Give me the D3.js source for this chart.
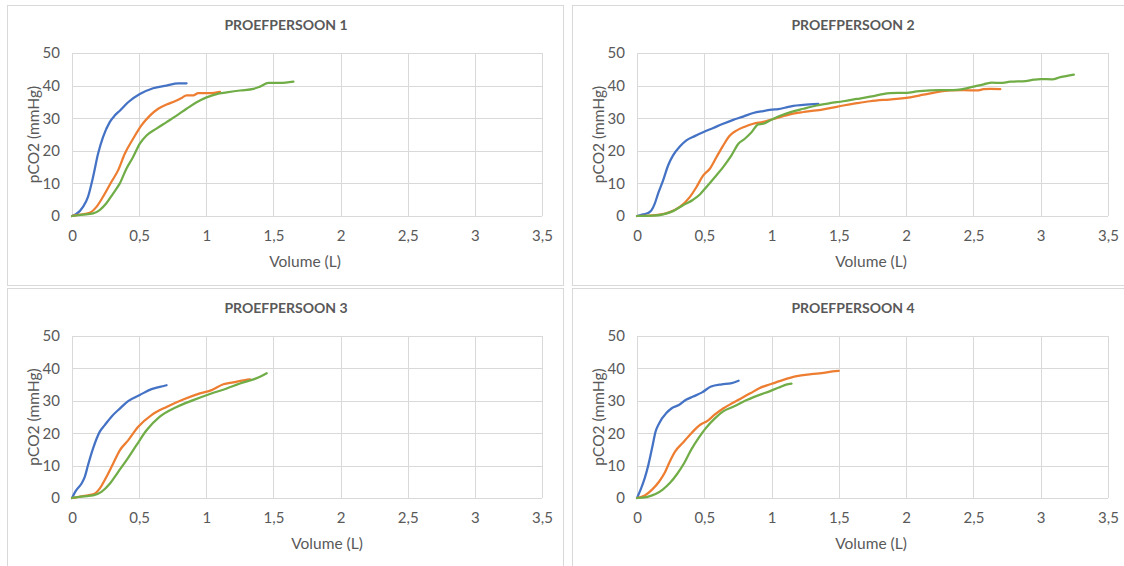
<!DOCTYPE html>
<html>
<head>
<meta charset="utf-8">
<script src="https://d3js.org/d3.v7.min.js"></script>
<style>
  body { margin: 0; background: #fff; }
  text { font-family: Lato, "Open Sans", sans-serif; fill: #595959; }
</style>
</head>
<body>
<svg class="target" width="1124" height="566"></svg>
<script>

// tick values (volume in L, pCO2 in mmHg)
const xTicks = [0, 0.5, 1, 1.5, 2, 2.5, 3, 3.5]
const yTicks = [0, 10, 20, 30, 40, 50]
const seriesColors = ['#4472C4', '#ED7D31', '#70AD47']

// proefpersoon 1  [volume, pCO2]
const p1Blue = [[0,0],[0.032,0.6],[0.082,2.8],[0.119,5.9],[0.157,12],[0.194,19.1],[0.231,24.2],[0.281,28.8],[0.318,30.8],[0.356,32.3],[0.418,34.9],[0.505,37.4],[0.604,39.2],[0.704,40],[0.791,40.7],[0.853,40.7]]
const p1Orange = [[0,0],[0.057,0.4],[0.132,1.0],[0.182,2.8],[0.231,5.9],[0.294,10.5],[0.343,14.0],[0.393,19.1],[0.455,23.7],[0.517,27.8],[0.580,30.8],[0.642,32.9],[0.704,34.2],[0.766,35.2],[0.816,36.2],[0.853,37.0],[0.903,37.0],[0.940,37.7],[1.027,37.7],[1.102,38.1]]
const p1Green = [[0,0],[0.082,0.4],[0.157,0.8],[0.206,1.8],[0.256,3.9],[0.306,6.9],[0.356,10.0],[0.405,14.5],[0.455,18.1],[0.505,22.2],[0.555,24.7],[0.629,26.8],[0.704,28.8],[0.779,30.8],[0.853,32.9],[0.928,34.9],[1.002,36.4],[1.077,37.4],[1.152,37.9],[1.251,38.5],[1.351,39.0],[1.400,39.7],[1.463,40.8],[1.550,40.8],[1.649,41.2]]

// proefpersoon 2
const p2Blue = [[0,0],[0.045,0.5],[0.082,0.9],[0.107,1.7],[0.132,3.8],[0.156,6.8],[0.194,10.9],[0.231,15.5],[0.268,18.6],[0.318,21.3],[0.367,23.2],[0.429,24.5],[0.491,25.7],[0.566,27.0],[0.640,28.3],[0.715,29.5],[0.789,30.5],[0.864,31.6],[0.938,32.2],[1.000,32.6],[1.050,32.8],[1.099,33.2],[1.161,33.8],[1.236,34.1],[1.347,34.4]]
const p2Orange = [[0,0],[0.094,0.1],[0.169,0.4],[0.243,1.2],[0.318,2.8],[0.392,5.8],[0.442,8.9],[0.491,12.4],[0.541,14.5],[0.591,18.1],[0.640,21.6],[0.690,24.7],[0.739,26.2],[0.801,27.4],[0.864,28.3],[0.938,28.9],[1.000,29.6],[1.062,30.3],[1.136,31.2],[1.236,31.9],[1.335,32.4],[1.434,33.1],[1.533,33.9],[1.633,34.6],[1.732,35.2],[1.831,35.6],[1.931,35.9],[2.030,36.4],[2.129,37.2],[2.228,38.0],[2.328,38.5],[2.427,38.6],[2.526,38.5],[2.576,38.9],[2.625,39.0],[2.700,38.9]]
const p2Green = [[0,0],[0.119,0.1],[0.194,0.5],[0.268,1.5],[0.342,3.3],[0.417,5.0],[0.467,6.6],[0.516,8.9],[0.578,11.9],[0.640,15.0],[0.702,18.6],[0.752,22.1],[0.801,23.7],[0.851,25.7],[0.901,28.1],[0.938,28.3],[0.988,29.3],[1.050,30.5],[1.136,31.8],[1.236,32.9],[1.335,33.9],[1.434,34.6],[1.533,35.2],[1.633,35.9],[1.732,36.6],[1.806,37.2],[1.881,37.7],[2.005,37.8],[2.079,38.2],[2.179,38.5],[2.278,38.6],[2.377,38.7],[2.427,39.0],[2.501,39.7],[2.576,40.4],[2.638,40.9],[2.700,40.8],[2.774,41.2],[2.886,41.4],[2.948,41.8],[2.998,42.0],[3.084,41.9],[3.146,42.6],[3.246,43.4]]

// proefpersoon 3
const p3Blue = [[0,0],[0.032,2.4],[0.070,4.4],[0.095,6.5],[0.119,10.1],[0.157,15.3],[0.206,20.4],[0.244,22.5],[0.294,25.1],[0.356,27.6],[0.418,29.9],[0.505,31.8],[0.592,33.6],[0.654,34.3],[0.704,34.8]]
const p3Orange = [[0,0],[0.082,0.6],[0.157,1.1],[0.206,2.9],[0.256,6.5],[0.306,10.6],[0.356,14.7],[0.418,17.8],[0.493,22.0],[0.592,25.6],[0.704,28.1],[0.828,30.4],[0.953,32.3],[1.040,33.3],[1.127,35.1],[1.201,35.7],[1.289,36.4],[1.326,36.6]]
const p3Green = [[0,0],[0.082,0.5],[0.157,0.8],[0.219,1.9],[0.281,4.4],[0.343,8.0],[0.405,11.6],[0.480,16.3],[0.555,20.9],[0.654,25.1],[0.779,28.1],[0.903,30.2],[1.027,32.1],[1.152,33.8],[1.276,35.7],[1.351,36.6],[1.400,37.4],[1.450,38.5]]

// proefpersoon 4
const p4Blue = [[0,0],[0.032,3.1],[0.058,6.2],[0.085,10.3],[0.112,15.4],[0.138,20.5],[0.165,23.1],[0.218,26.2],[0.258,27.7],[0.311,28.7],[0.364,30.3],[0.417,31.3],[0.484,32.6],[0.550,34.4],[0.630,35.1],[0.696,35.4],[0.755,36.2]]
const p4Orange = [[0,0],[0.058,0.8],[0.112,2.6],[0.165,5.1],[0.205,7.7],[0.244,11.3],[0.284,14.4],[0.337,16.9],[0.404,20.0],[0.470,22.6],[0.524,23.8],[0.577,25.7],[0.643,27.7],[0.710,29.3],[0.776,30.8],[0.842,32.3],[0.909,33.9],[0.989,35.1],[1.082,36.4],[1.188,37.6],[1.294,38.2],[1.400,38.7],[1.454,39.1],[1.499,39.2]]
const p4Green = [[0,0],[0.072,0.3],[0.138,1.2],[0.191,2.6],[0.244,4.6],[0.298,7.4],[0.351,10.8],[0.404,15.0],[0.457,18.5],[0.510,21.5],[0.577,24.5],[0.643,26.8],[0.723,28.3],[0.803,30.0],[0.896,31.6],[0.989,33.0],[1.055,34.1],[1.108,35.0],[1.148,35.3]]

const titles = ['PROEFPERSOON 1', 'PROEFPERSOON 2', 'PROEFPERSOON 3', 'PROEFPERSOON 4']
const panelSeries = [
  [p1Blue, p1Orange, p1Green],
  [p2Blue, p2Orange, p2Green],
  [p3Blue, p3Orange, p3Green],
  [p4Blue, p4Orange, p4Green]
]

// panel frames: box + plot area
const panels = [
  {bx: 7,   by: 5,   bw: 556, bh: 280, px0: 72,  px1: 542,  py0: 53,  py1: 216, xlab: 305},
  {bx: 572, by: 5,   bw: 560, bh: 280, px0: 637, px1: 1108, py0: 53,  py1: 216, xlab: 871},
  {bx: 7,   by: 288, bw: 556, bh: 290, px0: 72,  px1: 542,  py0: 336, py1: 498, xlab: 327},
  {bx: 572, by: 288, bw: 560, bh: 290, px0: 637, px1: 1108, py0: 336, py1: 498, xlab: 871}
]

const svg = d3.select('.target')
const fmt = d => String(d).replace('.', ',')

panels.forEach((p, i) => {
  const g = svg.append('g')

  g.append('rect')
    .attr('x', p.bx + 0.5).attr('y', p.by + 0.5)
    .attr('width', p.bw).attr('height', p.bh)
    .attr('fill', '#fff').attr('stroke', '#d9d9d9')

  const x = d3.scaleLinear([0, 3.5], [p.px0, p.px1])
  const y = d3.scaleLinear([0, 50], [p.py1, p.py0])

  // gridlines
  g.append('g')
    .selectAll('line')
    .data(xTicks)
    .join('line')
      .attr('x1', d => Math.round(x(d)) + 0.5).attr('x2', d => Math.round(x(d)) + 0.5)
      .attr('y1', p.py0).attr('y2', p.py1)
      .attr('stroke', '#d9d9d9')
  g.append('g')
    .selectAll('line')
    .data(yTicks)
    .join('line')
      .attr('x1', p.px0).attr('x2', p.px1)
      .attr('y1', d => Math.round(y(d)) + 0.5).attr('y2', d => Math.round(y(d)) + 0.5)
      .attr('stroke', '#d9d9d9')

  // axes (labels only, like the excel look)
  const xAxis = g.append('g')
    .attr('transform', `translate(0,${p.py1})`)
    .call(d3.axisBottom(x).tickValues(xTicks).tickFormat(fmt).tickSize(0).tickPadding(14))
  const yAxis = g.append('g')
    .attr('transform', `translate(${p.px0},0)`)
    .call(d3.axisLeft(y).tickValues(yTicks).tickSize(0).tickPadding(12))
  ;[xAxis, yAxis].forEach(a => {
    a.select('.domain').remove()
    a.selectAll('text').attr('font-size', 15).attr('font-family', null)
  })

  // lines
  const line = d3.line()
    .x(d => x(d[0]))
    .y(d => y(d[1]))
    .curve(d3.curveMonotoneX)

  g.selectAll('path.series')
    .data(panelSeries[i])
    .join('path')
      .attr('class', 'series')
      .attr('d', line)
      .attr('fill', 'none')
      .attr('stroke', (d, j) => seriesColors[j])
      .attr('stroke-width', 2.25)
      .attr('stroke-linejoin', 'round')
      .attr('stroke-linecap', 'round')

  // titles
  g.append('text')
    .attr('x', p.bx + p.bw / 2 + 1)
    .attr('y', p.by + 25)
    .attr('text-anchor', 'middle')
    .attr('font-size', 14)
    .attr('font-weight', 'bold')
    .text(titles[i])

  g.append('text')
    .attr('x', p.xlab)
    .attr('y', p.py1 + 51)
    .attr('text-anchor', 'middle')
    .attr('font-size', 15.5)
    .text('Volume (L)')

  g.append('text')
    .attr('transform', `translate(${p.px0 - 33},${(p.py0 + p.py1) / 2}) rotate(-90)`)
    .attr('text-anchor', 'middle')
    .attr('font-size', 15.5)
    .text('pCO2 (mmHg)')
})

</script>
</body>
</html>
